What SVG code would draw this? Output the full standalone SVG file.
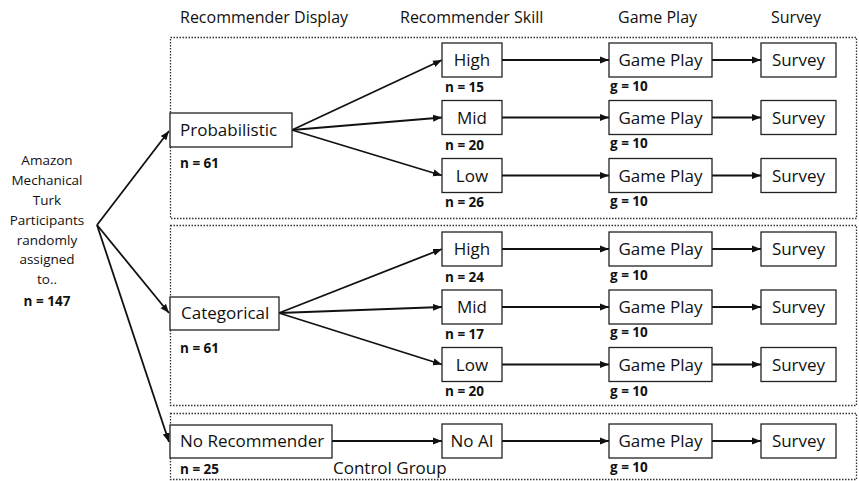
<svg xmlns="http://www.w3.org/2000/svg" width="859" height="481" viewBox="0 0 859 481">
<defs>
<marker id="ah" markerUnits="userSpaceOnUse" markerWidth="10" markerHeight="8" refX="9" refY="4" orient="auto">
<path d="M0,0.5 L9,4 L0,7.5 z" fill="#111"/>
</marker>
<style>
text{font-family:"Open Sans","Noto Sans",sans-serif;fill:#111}
.hd{font-size:16px}
.bx{font-size:17px}
.nl{font-size:13.5px;font-weight:bold}
.lt{font-size:13.5px;text-anchor:middle}
.c{text-anchor:middle}
rect.n{fill:#fff;stroke:#222;stroke-width:1.3}
rect.g{fill:none;stroke:#333;stroke-width:1.3;stroke-dasharray:1.5 1.5}
.e{fill:none;stroke:#111;stroke-width:1.8;marker-end:url(#ah)}
</style>
</defs>
<rect width="859" height="481" fill="#fff"/>
<g id="headers">
<text class="hd" x="180" y="23">Recommender Display</text>
<text class="hd" x="400" y="23">Recommender Skill</text>
<text class="hd" x="618" y="23">Game Play</text>
<text class="hd" x="771" y="23">Survey</text>
</g>
<g id="groups">
<rect class="g" x="170.5" y="37.5" width="686" height="181"/>
<rect class="g" x="170.5" y="225.5" width="686" height="180"/>
<rect class="g" x="170.5" y="413.5" width="686" height="66"/>
</g>
<g id="connectors">
<line class="e" x1="97" y1="225" x2="169" y2="131"/>
<line class="e" x1="97" y1="225" x2="169" y2="313"/>
<line class="e" x1="97" y1="225" x2="169" y2="442"/>
<line class="e" x1="292" y1="130" x2="442" y2="60"/>
<line class="e" x1="292" y1="130" x2="442" y2="117.5"/>
<line class="e" x1="292" y1="130" x2="442" y2="175.5"/>
<line class="e" x1="279" y1="313" x2="442" y2="249"/>
<line class="e" x1="279" y1="313" x2="442" y2="307"/>
<line class="e" x1="279" y1="313" x2="442" y2="364.5"/>
<line class="e" x1="332" y1="441" x2="442" y2="441"/>
<line class="e" x1="502" y1="60" x2="609" y2="60"/>
<line class="e" x1="502" y1="117.5" x2="609" y2="117.5"/>
<line class="e" x1="502" y1="175.5" x2="609" y2="175.5"/>
<line class="e" x1="502" y1="249" x2="609" y2="249"/>
<line class="e" x1="502" y1="307" x2="609" y2="307"/>
<line class="e" x1="502" y1="364.5" x2="609" y2="364.5"/>
<line class="e" x1="502" y1="441" x2="609" y2="441"/>
<line class="e" x1="712" y1="60" x2="761" y2="60"/>
<line class="e" x1="712" y1="117.5" x2="761" y2="117.5"/>
<line class="e" x1="712" y1="175.5" x2="761" y2="175.5"/>
<line class="e" x1="712" y1="249" x2="761" y2="249"/>
<line class="e" x1="712" y1="307" x2="761" y2="307"/>
<line class="e" x1="712" y1="364.5" x2="761" y2="364.5"/>
<line class="e" x1="712" y1="441" x2="761" y2="441"/>
</g>
<g id="participants">
<text class="lt" x="47" y="165">Amazon</text>
<text class="lt" x="47" y="185">Mechanical</text>
<text class="lt" x="47" y="205">Turk</text>
<text class="lt" x="47" y="225">Participants</text>
<text class="lt" x="47" y="245">randomly</text>
<text class="lt" x="47" y="264">assigned</text>
<text class="lt" x="47" y="284">to..</text>
<text class="nl c" x="47" y="306">n = 147</text>
</g>
<g id="probabilistic">
<rect class="n" x="170" y="113" width="122" height="34"/>
<text class="bx" x="180" y="136">Probabilistic</text>
<text class="nl" x="180" y="168">n = 61</text>
</g>
<g id="categorical">
<rect class="n" x="170" y="297" width="109" height="33"/>
<text class="bx" x="181" y="319">Categorical</text>
<text class="nl" x="180" y="353">n = 61</text>
</g>
<g id="norecommender">
<rect class="n" x="170" y="425" width="162" height="33"/>
<text class="bx" x="180" y="447">No Recommender</text>
<text class="nl" x="180" y="474">n = 25</text>
<text class="bx" x="333" y="474">Control Group</text>
</g>
<g id="skill-p-high"><rect class="n" x="442" y="43" width="60" height="34"/><text class="bx c" x="472" y="66">High</text><text class="nl" x="445" y="92">n = 15</text></g>
<g id="skill-p-mid"><rect class="n" x="442" y="100.5" width="60" height="34"/><text class="bx c" x="472" y="123.5">Mid</text><text class="nl" x="445" y="150">n = 20</text></g>
<g id="skill-p-low"><rect class="n" x="442" y="158.5" width="60" height="34"/><text class="bx c" x="472" y="181.5">Low</text><text class="nl" x="445" y="207">n = 26</text></g>
<g id="skill-c-high"><rect class="n" x="442" y="232" width="60" height="34"/><text class="bx c" x="472" y="255">High</text><text class="nl" x="445" y="282">n = 24</text></g>
<g id="skill-c-mid"><rect class="n" x="442" y="290" width="60" height="34"/><text class="bx c" x="472" y="313">Mid</text><text class="nl" x="445" y="339">n = 17</text></g>
<g id="skill-c-low"><rect class="n" x="442" y="347.5" width="60" height="34"/><text class="bx c" x="472" y="370.5">Low</text><text class="nl" x="445" y="396">n = 20</text></g>
<g id="skill-noai"><rect class="n" x="442" y="424" width="60" height="34"/><text class="bx c" x="472" y="447">No AI</text></g>
<g id="game-1"><rect class="n" x="609" y="43" width="103" height="34"/><text class="bx c" x="660.5" y="66">Game Play</text><text class="nl" x="610" y="91">g = 10</text></g>
<g id="game-2"><rect class="n" x="609" y="100.5" width="103" height="34"/><text class="bx c" x="660.5" y="123.5">Game Play</text><text class="nl" x="610" y="148">g = 10</text></g>
<g id="game-3"><rect class="n" x="609" y="158.5" width="103" height="34"/><text class="bx c" x="660.5" y="181.5">Game Play</text><text class="nl" x="610" y="206">g = 10</text></g>
<g id="game-4"><rect class="n" x="609" y="232" width="103" height="34"/><text class="bx c" x="660.5" y="255">Game Play</text><text class="nl" x="610" y="280">g = 10</text></g>
<g id="game-5"><rect class="n" x="609" y="290" width="103" height="34"/><text class="bx c" x="660.5" y="313">Game Play</text><text class="nl" x="610" y="337">g = 10</text></g>
<g id="game-6"><rect class="n" x="609" y="347.5" width="103" height="34"/><text class="bx c" x="660.5" y="370.5">Game Play</text><text class="nl" x="610" y="396">g = 10</text></g>
<g id="game-7"><rect class="n" x="609" y="424" width="103" height="34"/><text class="bx c" x="660.5" y="447">Game Play</text><text class="nl" x="610" y="472">g = 10</text></g>
<g id="survey-1"><rect class="n" x="761" y="43" width="75" height="34"/><text class="bx c" x="798.5" y="66">Survey</text></g>
<g id="survey-2"><rect class="n" x="761" y="100.5" width="75" height="34"/><text class="bx c" x="798.5" y="123.5">Survey</text></g>
<g id="survey-3"><rect class="n" x="761" y="158.5" width="75" height="34"/><text class="bx c" x="798.5" y="181.5">Survey</text></g>
<g id="survey-4"><rect class="n" x="761" y="232" width="75" height="34"/><text class="bx c" x="798.5" y="255">Survey</text></g>
<g id="survey-5"><rect class="n" x="761" y="290" width="75" height="34"/><text class="bx c" x="798.5" y="313">Survey</text></g>
<g id="survey-6"><rect class="n" x="761" y="347.5" width="75" height="34"/><text class="bx c" x="798.5" y="370.5">Survey</text></g>
<g id="survey-7"><rect class="n" x="761" y="424" width="75" height="34"/><text class="bx c" x="798.5" y="447">Survey</text></g>
</svg>
